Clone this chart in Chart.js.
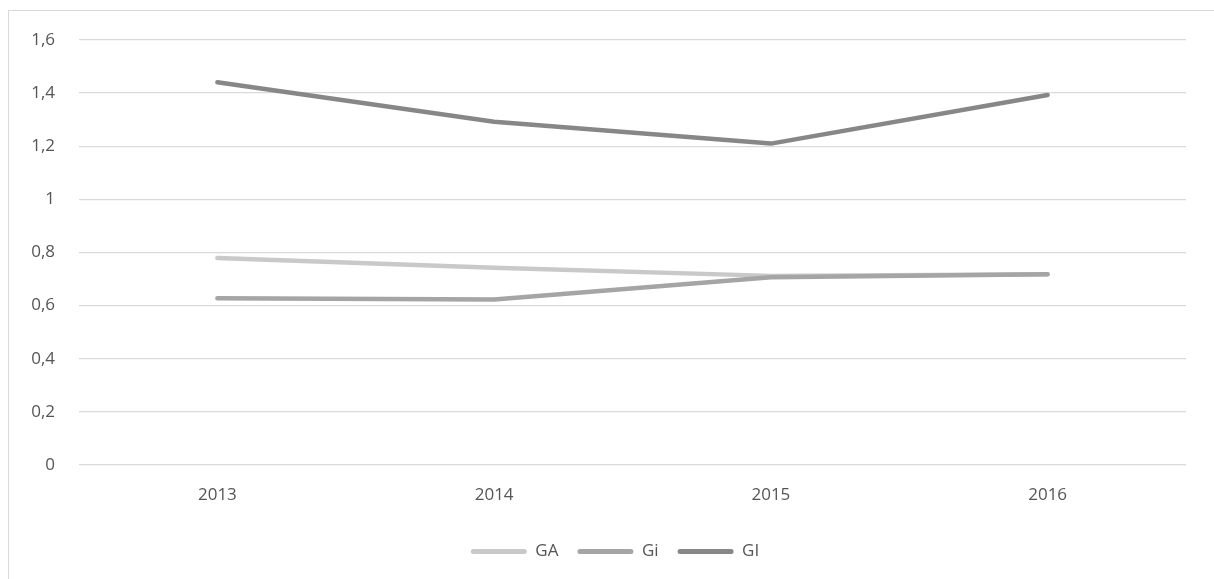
<!DOCTYPE html>
<html>
<head>
<meta charset="utf-8">
<script src="https://cdn.jsdelivr.net/npm/chart.js@4/dist/chart.umd.min.js"></script>
<style>
  html, body { margin: 0; padding: 0; background: #fff; overflow: hidden; }
  #frame {
    position: absolute; left: 8px; top: 10px;
    width: 1400px; height: 800px;
    border: 1px solid #d9d9d9;
  }
  #wrap { position: absolute; left: 0; top: 0; width: 1214px; height: 579px; }
</style>
</head>
<body>
<div id="frame"></div>
<div id="wrap"><canvas id="chart"></canvas></div>
<script>
  // Years on the category axis
  const years = ['2013', '2014', '2015', '2016'];

  // Series values
  const seriesGA = [0.779, 0.743, 0.712, 0.718];
  const seriesGi = [0.628, 0.623, 0.707, 0.718];
  const seriesGI = [1.441, 1.292, 1.21, 1.393];

  // Y tick range
  const yMin = 0;
  const yMax = 1.6;
  const yStep = 0.2;

  const font = { family: "'Open Sans', 'Liberation Sans', sans-serif", size: 17 };
  const textColor = '#555555';

  function series(label, data, color, order) {
    return {
      label: label,
      data: data,
      borderColor: color,
      backgroundColor: color,
      borderWidth: 4.5,
      borderCapStyle: 'round',
      borderJoinStyle: 'round',
      pointRadius: 0,
      pointHoverRadius: 0,
      tension: 0,
      fill: false,
      order: order
    };
  }

  // nudge the legend row to the right of the plot centre
  const legendShift = {
    id: 'legendShift',
    afterLayout: function(chart) {
      const lg = chart.legend;
      if (!lg) return;
      lg.left += 22;
      lg.right += 22;
    }
  };

  new Chart(document.getElementById('chart').getContext('2d'), {
    type: 'line',
    data: {
      labels: years,
      datasets: [
        series('GA', seriesGA, '#c9c9c9', 3),
        series('Gi', seriesGi, '#a5a5a5', 2),
        series('GI', seriesGI, '#878787', 1)
      ]
    },
    plugins: [legendShift],
    options: {
      responsive: true,
      maintainAspectRatio: false,
      animation: false,
      layout: { padding: { left: 0, right: 28, top: 40, bottom: 9 } },
      scales: {
        x: {
          offset: true,
          grid: { display: false, drawTicks: false },
          border: { display: false },
          ticks: { color: textColor, font: font, padding: 19.5 },
          afterFit: function(scale) { scale.height = 59; }
        },
        y: {
          min: yMin,
          max: yMax,
          grid: { color: '#d9d9d9', lineWidth: 1.3, drawTicks: false },
          border: { display: false },
          ticks: {
            stepSize: yStep,
            color: textColor,
            font: font,
            padding: 24,
            callback: function(v) {
              return String(Math.round(v * 10) / 10).replace('.', ',');
            }
          },
          afterFit: function(scale) { scale.width = 79; }
        }
      },
      plugins: {
        tooltip: { enabled: false },
        legend: {
          position: 'bottom',
          labels: {
            color: textColor,
            font: font,
            boxWidth: 56,
            boxHeight: 5,
            padding: 19,
            useBorderRadius: true,
            borderRadius: 2.5,
            generateLabels: function(chart) {
              return chart.data.datasets.map(function(ds, i) {
                return {
                  text: ds.label,
                  fillStyle: ds.borderColor,
                  strokeStyle: ds.borderColor,
                  lineWidth: 0,
                  fontColor: textColor,
                  borderRadius: 2.5,
                  datasetIndex: i,
                  hidden: false
                };
              });
            }
          }
        }
      }
    }
  });
</script>
</body>
</html>
